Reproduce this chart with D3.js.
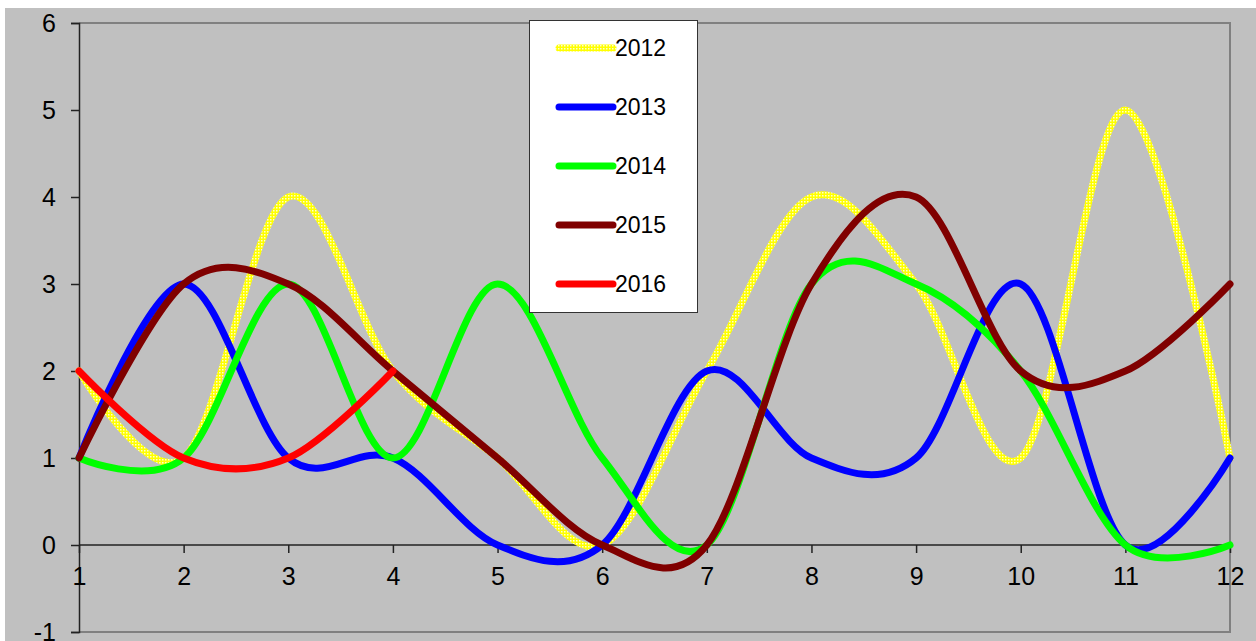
<!DOCTYPE html>
<html>
<head>
<meta charset="utf-8">
<script src="https://cdn.jsdelivr.net/npm/d3@7"></script>
<style>
  html, body { margin: 0; padding: 0; background: #ffffff; }
  svg { display: block; }
  text { font-family: "Liberation Sans", Arial, sans-serif; fill: #000; }
</style>
</head>
<body>
<svg id="chart" width="1256" height="641"></svg>
<script>
// Monthly values per year (months 1..12)
const months = [1, 2, 3, 4, 5, 6, 7, 8, 9, 10, 11, 12];
const s2012 = [2, 1, 4, 2, 1, 0, 2, 4, 3, 1, 5, 1];
const s2013 = [1, 3, 1, 1, 0, 0, 2, 1, 1, 3, 0, 1];
const s2014 = [1, 1, 3, 1, 3, 1, 0, 3, 3, 2, 0, 0];
const s2015 = [1, 3, 3, 2, 1, 0, 0, 3, 4, 2, 2, 3];
const s2016 = [2, 1, 1, 2];
const seriesNames = ["2012", "2013", "2014", "2015", "2016"];
const yTicks = [-1, 0, 1, 2, 3, 4, 5, 6];

const seriesValues = [s2012, s2013, s2014, s2015, s2016];
const seriesColors = ["url(#yellowDots)", "#0000ff", "#00ff00", "#800000", "#ff0000"];

const svg = d3.select("#chart");

// chart background
svg.append("rect").attr("x", 5).attr("y", 8).attr("width", 1251).attr("height", 633).attr("fill", "#c0c0c0");

// dotted yellow fill for the 2012 series
const defs = svg.append("defs");
const pat = defs.append("pattern").attr("id", "yellowDots")
  .attr("patternUnits", "userSpaceOnUse").attr("width", 3).attr("height", 3);
pat.append("rect").attr("width", 3).attr("height", 3).attr("fill", "#ffff00");
pat.append("rect").attr("x", 0).attr("y", 0).attr("width", 1.5).attr("height", 1.5).attr("fill", "#ffffd0");

const plot = { left: 79, right: 1230, top: 23, bottom: 632 };

const x = d3.scaleLinear().domain([1, 12]).range([plot.left, plot.right]);
const y = d3.scaleLinear().domain([-1, 6]).range([plot.bottom, plot.top]);

// plot frame (top, right, bottom)
svg.append("path")
  .attr("d", `M${plot.left},${plot.top}H${plot.right}V${plot.bottom}H${plot.left}`)
  .attr("fill", "none").attr("stroke", "#808080").attr("stroke-width", 2);

// y axis
const yAxis = d3.axisLeft(y).tickValues(yTicks).tickSize(8).tickPadding(15).tickFormat(d => String(d));
const gy = svg.append("g").attr("transform", `translate(${plot.left},0)`).call(yAxis);
gy.select(".domain").attr("stroke", "#222").attr("stroke-width", 1.5);
gy.selectAll(".tick line").attr("stroke", "#222").attr("stroke-width", 1.5);
gy.selectAll(".tick text").attr("font-size", 25).attr("font-family", "Liberation Sans, Arial, sans-serif").attr("fill", "#000");

// x axis along zero
const xAxis = d3.axisBottom(x).tickValues(months).tickSize(8).tickPadding(14).tickFormat(d => String(d));
const gx = svg.append("g").attr("transform", `translate(0,${y(0)})`).call(xAxis);
gx.select(".domain").attr("stroke", "#222").attr("stroke-width", 1.5).attr("d", `M${plot.left},0H${plot.right}`);
gx.selectAll(".tick line").attr("stroke", "#222").attr("stroke-width", 1.5);
gx.selectAll(".tick text").attr("font-size", 25).attr("font-family", "Liberation Sans, Arial, sans-serif").attr("fill", "#000");

// smoothed series lines
const line = d3.line()
  .x((d, i) => x(months[i]))
  .y(d => y(d))
  .curve(d3.curveCardinal.tension(0));

seriesValues.forEach((vals, k) => {
  svg.append("path")
    .datum(vals)
    .attr("d", line)
    .attr("fill", "none")
    .attr("stroke", seriesColors[k])
    .attr("stroke-width", 7)
    .attr("stroke-linecap", "round")
    .attr("stroke-linejoin", "round");
});

// legend
const lg = svg.append("g");
lg.append("rect").attr("x", 529.5).attr("y", 20.5).attr("width", 168).attr("height", 292)
  .attr("fill", "#ffffff").attr("stroke", "#333").attr("stroke-width", 1);
seriesNames.forEach((name, k) => {
  const cy = 48 + k * 59;
  lg.append("line").attr("x1", 559).attr("x2", 613).attr("y1", cy).attr("y2", cy)
    .attr("stroke", seriesColors[k]).attr("stroke-width", 7).attr("stroke-linecap", "round");
  lg.append("text").attr("x", 615).attr("y", cy + 8).attr("font-size", 23).text(name);
});
</script>
</body>
</html>
